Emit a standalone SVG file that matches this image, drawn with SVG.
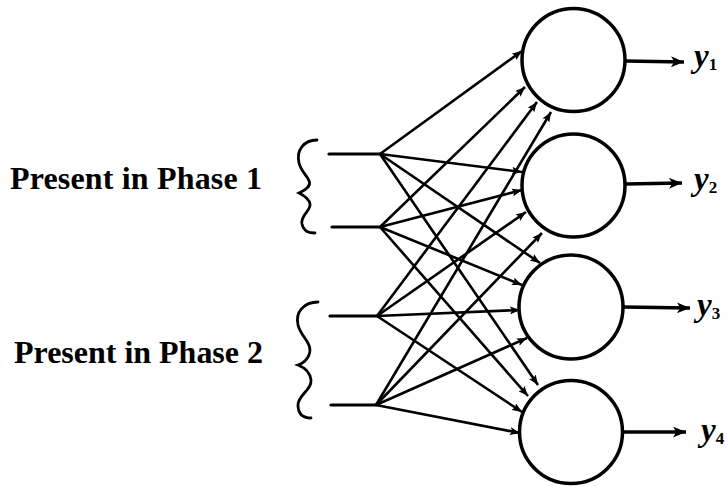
<svg xmlns="http://www.w3.org/2000/svg" width="728" height="486" viewBox="0 0 728 486">
<defs>
<style>
.lbl{font-family:"Liberation Serif","Times New Roman",serif;font-weight:bold;font-size:32px;fill:#000}
.out{font-family:"Liberation Serif","Times New Roman",serif;font-weight:bold;font-style:italic;font-size:33px;fill:#000}
.sub{font-size:17px;font-style:normal}
.node{fill:#fff;stroke:#000;stroke-width:3.5}
.in{stroke:#000;stroke-width:3.2;fill:none;stroke-linecap:round}
.brace{stroke:#000;stroke-width:2.8;fill:none;stroke-linecap:round}
.edge{stroke:#000;stroke-width:2.6;fill:none;marker-end:url(#ah)}
.outarrow{stroke:#000;stroke-width:3.4;fill:none;marker-end:url(#oh)}
</style>
<marker id="ah" markerUnits="userSpaceOnUse" viewBox="0 0 10 8" refX="10" refY="4" markerWidth="10" markerHeight="8" orient="auto">
<path d="M0,0 L10,4 L0,8 L2,4 Z" fill="#000"/>
</marker>
<marker id="oh" markerUnits="userSpaceOnUse" viewBox="0 0 12 10" refX="12" refY="5" markerWidth="13" markerHeight="11" orient="auto">
<path d="M0,0 L12,5 L0,10 L3,5 Z" fill="#000"/>
</marker>
</defs>
<rect width="728" height="486" fill="#fff"/>

<g id="labels">
<text class="lbl" x="10" y="189" textLength="252" lengthAdjust="spacing">Present in Phase 1</text>
<text class="lbl" x="14" y="363" textLength="249" lengthAdjust="spacing">Present in Phase 2</text>
</g>

<g id="brace1">
<path class="brace" d="M317,140 C304,140 296,150 299,163 C302,175 315,181 307,188 C304,191 301,192 299,193 C303,195 309,198 310,204 C311,211 300,215 302,224 C304,232 309,233 315,233"/>
</g>
<g id="brace2">
<path class="brace" d="M318,302 C304,302 295,312 298,325 C301,338 315,344 308,357 C305,362 301,364 298,365 C303,367 310,371 311,380 C312,390 298,395 298,405 C298,415 304,418 311,418"/>
</g>

<g id="input1"><line class="in" x1="329" y1="154" x2="380" y2="154"/></g>
<g id="input2"><line class="in" x1="332" y1="227" x2="380" y2="227"/></g>
<g id="input3"><line class="in" x1="330" y1="316" x2="377" y2="316"/></g>
<g id="input4"><line class="in" x1="331" y1="405" x2="376" y2="405"/></g>

<g id="connectors">
<line class="edge" x1="380" y1="154" x2="522" y2="51"/>
<line class="edge" x1="380" y1="227" x2="525" y2="87"/>
<line class="edge" x1="377" y1="316" x2="537" y2="102"/>
<line class="edge" x1="376" y1="405" x2="551" y2="112"/>

<line class="edge" x1="380" y1="154" x2="522" y2="172"/>
<line class="edge" x1="380" y1="227" x2="522" y2="190"/>
<line class="edge" x1="377" y1="316" x2="526" y2="212"/>
<line class="edge" x1="376" y1="405" x2="542" y2="233"/>

<line class="edge" x1="380" y1="154" x2="540" y2="263"/>
<line class="edge" x1="380" y1="227" x2="522" y2="285"/>
<line class="edge" x1="377" y1="316" x2="520" y2="310"/>
<line class="edge" x1="376" y1="405" x2="527" y2="338"/>

<line class="edge" x1="380" y1="154" x2="538" y2="385"/>
<line class="edge" x1="380" y1="227" x2="528" y2="396"/>
<line class="edge" x1="377" y1="316" x2="522" y2="412"/>
<line class="edge" x1="376" y1="405" x2="520" y2="433"/>

<line class="outarrow" x1="625" y1="61" x2="684" y2="62"/>
<line class="outarrow" x1="625" y1="184" x2="682" y2="183"/>
<line class="outarrow" x1="623" y1="307" x2="690" y2="308"/>
<line class="outarrow" x1="622" y1="432" x2="686" y2="432"/>
</g>

<g id="node1"><circle class="node" cx="573.5" cy="60" r="51.5"/></g>
<g id="node2"><circle class="node" cx="573.5" cy="185.5" r="51.5"/></g>
<g id="node3"><circle class="node" cx="571" cy="307" r="52"/></g>
<g id="node4"><circle class="node" cx="571" cy="432" r="51.5"/></g>

<g id="outputs">
<text class="out" x="694" y="67">y<tspan class="sub" dx="0" dy="3">1</tspan></text>
<text class="out" x="694" y="190">y<tspan class="sub" dx="0" dy="3">2</tspan></text>
<text class="out" x="697" y="316">y<tspan class="sub" dx="0" dy="3">3</tspan></text>
<text class="out" x="701" y="441">y<tspan class="sub" dx="0" dy="3">4</tspan></text>
</g>
</svg>
